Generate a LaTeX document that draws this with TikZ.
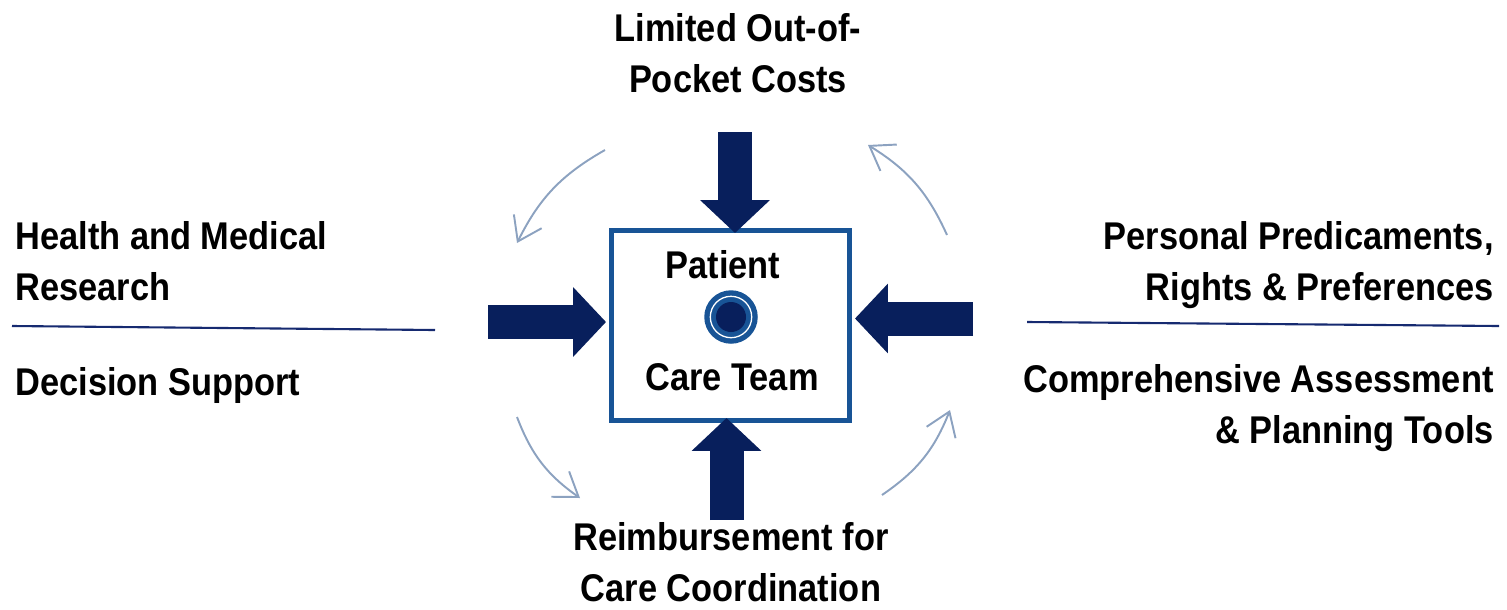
\documentclass[tikz,border=0pt]{standalone}
\usepackage{fontspec}
\setmainfont{Liberation Sans}[FakeStretch=0.89]
\usetikzlibrary{arrows.meta, positioning, calc}

\definecolor{navy}{RGB}{8,31,92}
\definecolor{boxblue}{RGB}{24,84,150}
\definecolor{cyclegray}{RGB}{140,162,192}
\definecolor{rulenavy}{RGB}{22,42,112}

\tikzset{
  heading/.style={font=\fontsize{22}{28.5}\selectfont\bfseries, inner sep=0pt},
  push/.style={navy, line width=0.68cm, -{Triangle[length=0.66cm, width=1.36cm]}},
  turn/.style={cyclegray, line width=1.1pt, -{Straight Barb[length=0.45cm, width=0.62cm]}, bend right=17},
  divider/.style={rulenavy, line width=1.2pt},
}

\begin{document}
\begin{tikzpicture}[x=0.02cm, y=-0.02cm]
\useasboundingbox (0,0) rectangle (1507,609);

% centre box
\node[draw=boxblue, line width=0.1cm, minimum width=4.76cm, minimum height=3.8cm, inner sep=0pt] (team) at (730.5,325.5) {};
\node[heading, anchor=base] (patient) at (723,278) {Patient};
\node[heading, anchor=base] (careteam) at (732,390) {Care Team};
\node[circle, fill=boxblue, minimum size=1.07cm, inner sep=0pt] (hub) at (731,317) {};
\draw[white, line width=0.026cm] (hub) circle[radius=0.414cm];
\fill[navy] (hub) circle[radius=0.3cm];

% outer labels (base = last line)
\node[heading, anchor=base, align=center] (costs) at (738,92) {Limited Out-of-\\Pocket Costs};
\node[heading, anchor=base west, align=left] (research) at (15,300) {Health and Medical\\Research};
\node[heading, anchor=base west] (decision) at (15,395) {Decision Support};
\node[heading, anchor=base east, align=right] (rights) at (1494,300) {Personal Predicaments,\\Rights \& Preferences};
\node[heading, anchor=base east, align=right] (tools) at (1494,443) {Comprehensive Assessment\\\& Planning Tools};
\node[heading, anchor=base, align=center] (payment) at (731,601) {Reimbursement for\\Care Coordination};

% dividers
\draw[divider] (12,326) -- (435,330);
\draw[divider] (1027,322) -- (1499,326);

% pushing arrows
\coordinate (topA) at (735,132);
\coordinate (leftA) at (488,322);
\coordinate (rightA) at (973,318.5);
\coordinate (bottomA) at (726.5,520);
\draw[push, shorten >=-0.1cm] (topA) -- (topA |- team.north);
\draw[push, shorten >=0.06cm] (leftA) -- (leftA -| team.west);
\draw[push, shorten >=0.06cm] (rightA) -- (rightA -| team.east);
\draw[push, shorten >=-0.1cm] (bottomA) -- (bottomA |- team.south);

% cycle arrows
\coordinate (tlA) at (605,150); \coordinate (tlB) at (517,243);
\coordinate (blA) at (517,417); \coordinate (blB) at (580,498);
\coordinate (brA) at (882,495); \coordinate (brB) at (950,410);
\coordinate (trA) at (947,235); \coordinate (trB) at (868,145);
\draw[turn] (tlA) to (tlB);
\draw[turn] (blA) to (blB);
\draw[turn] (brA) to (brB);
\draw[turn] (trA) to (trB);
\end{tikzpicture}
\end{document}
